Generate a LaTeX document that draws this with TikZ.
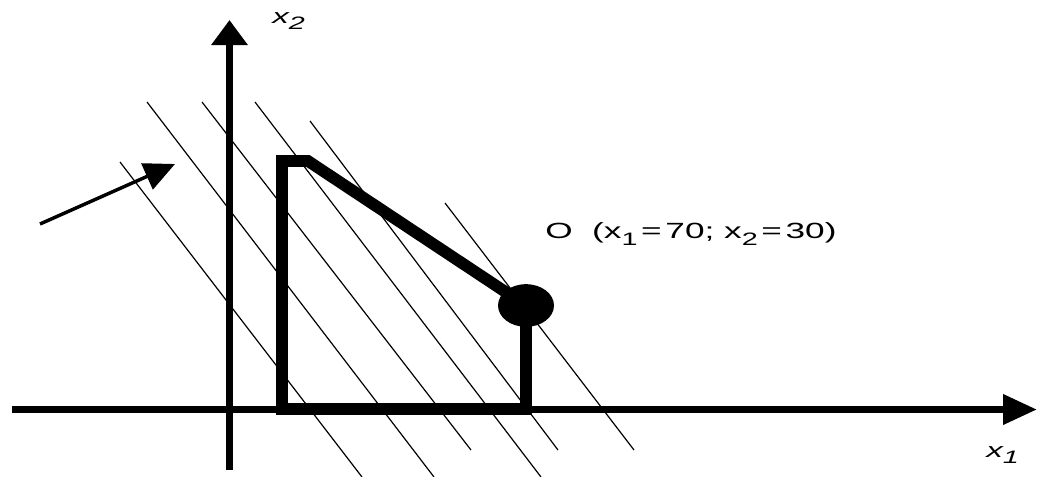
\documentclass[tikz,border=0pt]{standalone}
\usepackage{fontspec}
\newfontfamily\plotfont[FakeStretch=1.6]{Liberation Sans}
\usetikzlibrary{arrows.meta,shapes.geometric}
\newcommand{\lowsub}[1]{\raisebox{-0.32em}{\fontsize{13.5}{13.5}\selectfont#1}}
\tikzset{axis/.style={line width=5.25pt},region/.style={line width=8.75pt,line join=miter},iso/.style={line width=0.9pt},optdot/.style={ellipse,fill=black,minimum width=42pt,minimum height=32pt,inner sep=0pt},lbl/.style={font=\plotfont\fontsize{16.5}{19}\selectfont,inner sep=0pt},axlbl/.style={lbl,font=\plotfont\itshape\fontsize{15.5}{18}\selectfont},grad/.style={line width=2.6pt,-{Triangle[length=23pt,width=21pt]}}}

\begin{document}
\begin{tikzpicture}[x=0.75pt,y=-0.75pt]
\useasboundingbox (0,0) rectangle (1037,476);
% objective lines
\foreach \xa/\ya/\xb/\yb in {120/162/362/477,147/102/434/477,202/102/471/450,255/102/541/477,310/121/558/450,445/203/634/450} \draw[iso] (\xa,\ya) -- (\xb,\yb);
% axes
\coordinate (xstart) at (12,409.5);\coordinate (xend) at (1037,409.5);\coordinate (ystart) at (229.5,470);\coordinate (yend) at (229.5,20);
\draw[axis,-{Triangle[length=25.5pt,width=21.75pt]}] (xstart) -- (xend);
\draw[axis,-{Triangle[length=18.75pt,width=26.25pt]}] (ystart) -- (yend);
\node[axlbl,anchor=base west] (x1lbl) at (986,457) {x\lowsub{1}};
\node[axlbl,anchor=base west] (x2lbl) at (272,23) {x\lowsub{2}};
% feasible region
\node[optdot] (opt) at (526,305.5) {};
\coordinate (pa) at (282,409);\coordinate (pb) at (282,161);\coordinate (pc) at (308,161);\coordinate (pd) at (526,409);
\draw[region] (pa) -- (pb) -- (pc) -- (opt.center) -- (pd) -- cycle;
\node[lbl,anchor=base west] (optlbl) at (545,238) {O\ \ (x\lowsub{1}\,=\,70; x\lowsub{2}\,=\,30)};
% gradient
\coordinate (gtail) at (40,224);\coordinate (gtip) at (175,164);
\draw[grad] (gtail) -- (gtip);
\end{tikzpicture}
\end{document}
